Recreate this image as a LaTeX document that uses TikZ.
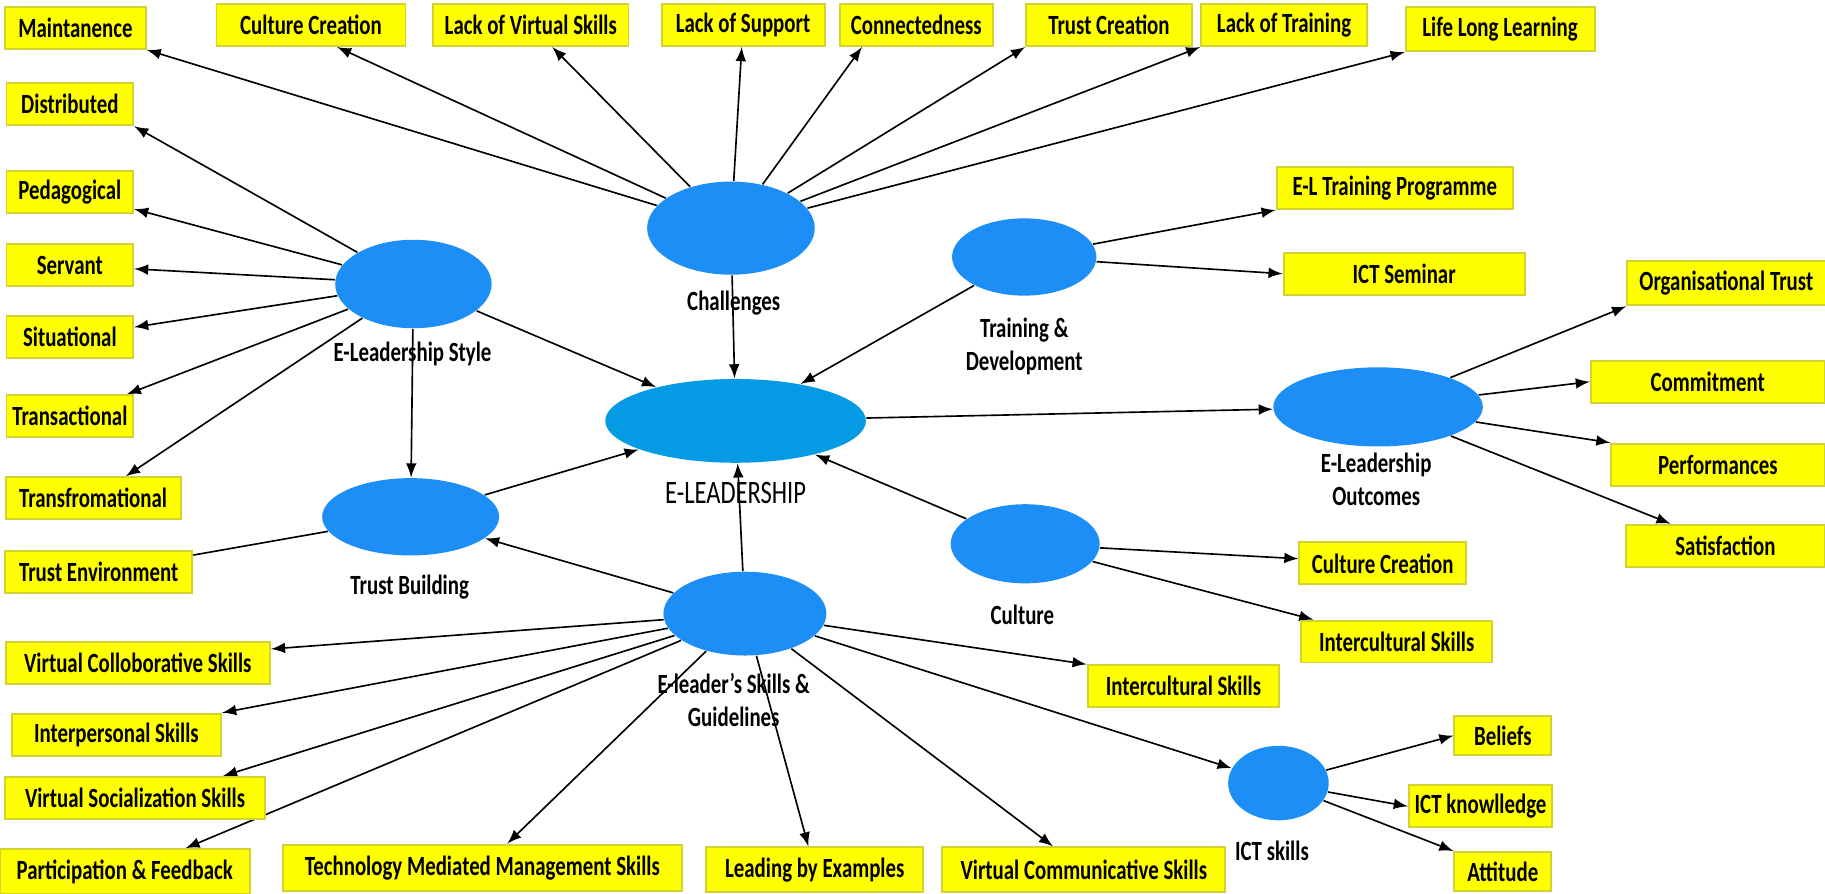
\documentclass[tikz,border=0pt]{standalone}
\usepackage{fontspec}
\setmainfont{Carlito}[FakeStretch=0.75]
\usetikzlibrary{shapes.geometric,backgrounds}

\definecolor{boxyellow}{RGB}{255,255,0}
\definecolor{boxedge}{RGB}{210,210,50}
\definecolor{blobblue}{RGB}{28,142,245}
\definecolor{coreblue}{RGB}{5,155,228}

\begin{document}
\begin{tikzpicture}
\tikzset{ >=latex,
  item/.style={fill=boxyellow, draw=boxedge, line width=0.6pt, minimum height=0.45cm, inner sep=0pt,
               font=\bfseries\fontsize{8.5}{9}\selectfont},
  blob/.style={ellipse, fill=blobblue, inner sep=0pt},
  tag/.style={font=\bfseries\fontsize{8.5}{10}\selectfont, align=center},
  link/.style={line width=0.5pt},
}

\useasboundingbox (0,0) rectangle (19.6,9.6);
%\draw [lightgray, dashed](0,0) grid (19,9);

% ellipses
\node [blob, minimum width=1.80cm, minimum height=1.00cm] (CH) at (7.85,7.15) {};
\node [blob, minimum width=1.68cm, minimum height=0.95cm] (ST) at (4.44,6.55) {};
\node [blob, minimum width=1.55cm, minimum height=0.83cm] (TD) at (11.00,6.84) {};
\node [blob, fill=coreblue, minimum width=2.80cm, minimum height=0.90cm] (EL) at (7.90,5.08) {};
\node [blob, minimum width=2.25cm, minimum height=0.85cm] (OC) at (14.80,5.23) {};
\node [blob, minimum width=1.90cm, minimum height=0.83cm] (TB) at (4.41,4.05) {};
\node [blob, minimum width=1.60cm, minimum height=0.85cm] (CU) at (11.01,3.76) {};
\node [blob, minimum width=1.75cm, minimum height=0.90cm] (SK) at (8.00,3.01) {};
\node [blob, minimum width=1.08cm, minimum height=0.80cm] (IT) at (13.73,1.19) {};

\node [tag] (CHt) at (7.88,6.35) {Challenges};
\node [tag] (STt) at (4.43,5.80) {E-Leadership Style};
\node [tag] (TDt) at (11.00,5.88) {Training \&\\Development};
\node [tag, font=\fontsize{10}{12}\selectfont] (ELt) at (7.90,4.31) {E-LEADERSHIP};
\node [tag] (OCt) at (14.78,4.45) {E-Leadership\\Outcomes};
\node [tag] (TBt) at (4.40,3.29) {Trust Building};
\node [tag] (CUt) at (10.98,3.00) {Culture};
\node [tag] (SKt) at (7.88,2.08) {E-leader's Skills \&\\Guidelines};
\node [tag] (ITt) at (13.66,0.46) {ICT skills};

% top row
\node [item, minimum width=1.51cm] (MNT) at (0.81,9.30) {Maintanence};
\node [item, minimum width=2.03cm] (CC1) at (3.34,9.33) {Culture Creation};
\node [item, minimum width=2.10cm] (LVS) at (5.70,9.33) {Lack of Virtual Skills};
\node [item, minimum width=1.75cm] (LSU) at (7.98,9.33) {Lack of Support};
\node [item, minimum width=1.64cm] (CON) at (9.84,9.33) {Connectedness};
\node [item, minimum width=1.78cm] (TCR) at (11.91,9.33) {Trust Creation};
\node [item, minimum width=1.78cm] (LTR) at (13.79,9.33) {Lack of Training};
\node [item, minimum width=2.03cm, minimum height=0.48cm] (LLL) at (16.11,9.29) {Life Long Learning};

% left column
\node [item, minimum width=1.36cm] (DIS) at (0.75,8.48) {Distributed};
\node [item, minimum width=1.36cm] (PED) at (0.75,7.54) {Pedagogical};
\node [item, minimum width=1.36cm] (SER) at (0.75,6.75) {Servant};
\node [item, minimum width=1.36cm] (SIT) at (0.75,5.98) {Situational};
\node [item, minimum width=1.36cm] (TRA) at (0.75,5.13) {Transactional};
\node [item, minimum width=1.88cm] (TRF) at (1.00,4.25) {Transfromational};
\node [item, minimum width=2.01cm] (TEN) at (1.06,3.46) {Trust Environment};

% bottom row
\node [item, minimum width=2.84cm] (VCS) at (1.48,2.48) {Virtual Colloborative Skills};
\node [item, minimum width=2.25cm] (IPS) at (1.25,1.71) {Interpersonal Skills};
\node [item, minimum width=2.79cm] (VSS) at (1.45,1.03) {Virtual Socialization Skills};
\node [item, minimum width=2.69cm, minimum height=0.48cm] (PFB) at (1.34,0.24) {Participation \& Feedback};
\node [item, minimum width=4.28cm, minimum height=0.50cm] (TMM) at (5.18,0.28) {Technology Mediated Management Skills};
\node [item, minimum width=2.33cm, minimum height=0.48cm] (LBE) at (8.75,0.26) {Leading by Examples};
\node [item, minimum width=3.04cm, minimum height=0.48cm] (VCO) at (11.64,0.26) {Virtual Communicative Skills};
\node [item, minimum width=2.06cm] (ICS) at (12.71,2.23) {Intercultural Skills};

% right side
\node [item, minimum width=2.54cm] (ELT) at (14.98,7.58) {E-L Training Programme};
\node [item, minimum width=2.59cm] (SEM) at (15.08,6.66) {ICT Seminar};
\node [item, minimum width=2.13cm, minimum height=0.48cm] (OTR) at (18.54,6.56) {Organisational Trust};
\node [item, minimum width=2.51cm] (COM) at (18.34,5.50) {Commitment};
\node [item, minimum width=2.29cm] (PER) at (18.45,4.61) {Performances};
\node [item, minimum width=2.14cm] (SAT) at (18.53,3.74) {Satisfaction};
\node [item, minimum width=1.79cm] (CC2) at (14.85,3.55) {Culture Creation};
\node [item, minimum width=2.05cm] (IC2) at (15.00,2.71) {Intercultural Skills};
\node [item, minimum width=1.04cm, minimum height=0.42cm] (BEL) at (16.14,1.70) {Beliefs};
\node [item, minimum width=1.54cm] (ICK) at (15.90,0.94) {ICT knowlledge};
\node [item, minimum width=1.04cm, minimum height=0.42cm] (ATT) at (16.14,0.24) {Attitude};

\begin{pgfonlayer}{background}
% challenges
\draw [->, link] (CH) -- (MNT.south east);
\draw [->, link] (CH) -- (CC1.-40);
\draw [->, link] (CH) -- (LVS);
\draw [->, link] (CH) -- (LSU);
\draw [->, link] (CH) -- (CON.202);
\draw [->, link] (CH) -- (TCR.south west);
\draw [->, link] (CH) -- (LTR.south west);
\draw [->, link] (CH) -- (LLL.south west);
\draw [->, link] (CH) -- (EL);

% style
\draw [->, link] (ST) -- (DIS.south east);
\draw [->, link] (ST) -- (PED);
\draw [->, link] (ST) -- (SER);
\draw [->, link] (ST) -- (SIT);
\draw [->, link] (ST) -- (TRA);
\draw [->, link] (ST) -- (TRF);
\draw [->, link] (ST) -- (TB);
\draw [->, link] (ST) -- (EL);

% training
\draw [->, link] (TD) -- (ELT.south west);
\draw [->, link] (TD) -- (SEM.west);
\draw [->, link] (TD) -- (EL);

% outcomes
\draw [->, link] (EL) -- (OC);
\draw [->, link] (OC) -- (OTR.south west);
\draw [->, link] (OC) -- (COM.west);
\draw [->, link] (OC) -- (PER.north west);
\draw [->, link] (OC) -- (SAT);

% trust
\draw [->, link] (TB) -- (EL);
\draw [    link] (TB) -- (TEN);

% skills
\draw [->, link] (SK) -- (TB);
\draw [->, link] (SK) -- (EL);
\draw [->, link] (SK) -- (VCS.6);
\draw [->, link] (SK) -- (IPS.north east);
\draw [->, link] (SK) -- (VSS.14);
\draw [->, link] (SK) -- (PFB.21);
\draw [->, link] (SK) -- (TMM);
\draw [->, link] (SK) -- (LBE);
\draw [->, link] (SK) -- (VCO);
\draw [->, link] (SK) -- (ICS.north west);
\draw [->, link] (SK) -- (IT);

% culture
\draw [->, link] (CU) -- (EL);
\draw [->, link] (CU) -- (CC2);
\draw [->, link] (CU) -- (IC2);

% ict
\draw [->, link] (IT) -- (BEL.west);
\draw [->, link] (IT) -- (ICK.west);
\draw [->, link] (IT) -- (ATT.north west);
\end{pgfonlayer}

\end{tikzpicture}
\end{document}
